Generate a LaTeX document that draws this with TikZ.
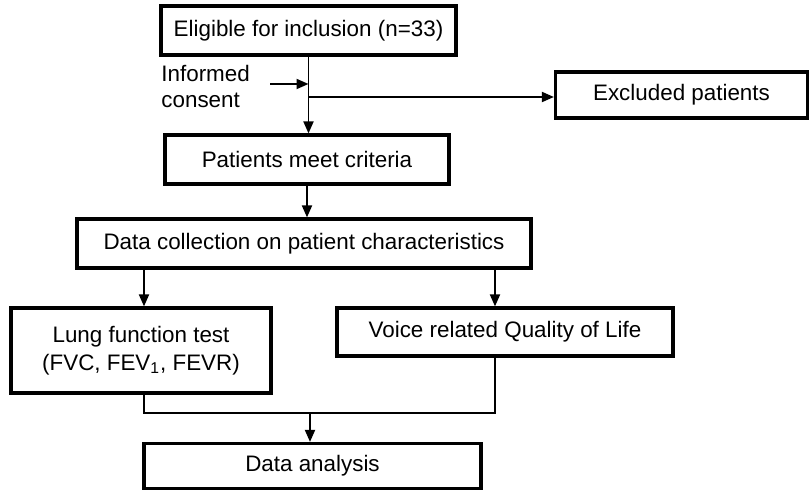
\documentclass[tikz,border=0pt]{standalone}
\usepackage{fontspec}
\setmainfont{Liberation Sans}
\usetikzlibrary{positioning,arrows.meta}

\tikzset{
  % rectangular step of the flow chart
  box/.style={draw, line width=1.6pt, rectangle, inner sep=2pt,
    minimum height=24.5pt, font=\fontsize{11.2}{14}\selectfont},
  % connecting lines and arrows
  link/.style={line width=0.95pt},
  arr/.style={link, -{Triangle[length=6pt,width=5pt]}}
}

\begin{document}
\begin{tikzpicture}[x=0.5pt, y=-0.5pt]

  % fix the size of the picture
  \useasboundingbox (0,0) rectangle (809,491);

  % add boxes for each step
  \node[box, minimum width=147.5pt] (elig) at (308.5, 30.5) {Eligible for inclusion (n=33)};
  \node[box, minimum width=126pt, minimum height=23pt] (excl) at (681.5, 95) {Excluded patients};
  \node[box, minimum width=142pt] (meet) at (307, 159.5) {Patients meet criteria};
  \node[box, minimum width=227pt] (coll) at (304, 243.5) {Data collection on patient characteristics};
  \node[box, minimum width=130pt, minimum height=42.5pt, align=center] (lung) at (141, 350.5)
    {Lung function test\\(FVC, FEV\textsubscript{1}, FEVR)};
  \node[box, minimum width=168pt, minimum height=24pt] (voice) at (505, 332) {Voice related Quality of Life};
  \node[box, minimum width=168.5pt, minimum height=22.5pt] (ana) at (312.5, 466) {Data analysis};

  % add side label
  \node[font=\fontsize{11.2}{13}\selectfont, align=left, anchor=west, inner sep=0pt] (cons) at (161, 86)
    {Informed\\consent};

  % helper points
  \coordinate (ic) at (270, 84);
  \coordinate (join) at (310, 413);

  % add connectors
  \draw[arr] (elig.south) -- (elig.south |- meet.north);
  \draw[arr] (ic) -- (ic -| elig.south);
  \draw[arr] (elig.south |- 0, 97) -- (excl.west |- 0, 97);
  \draw[arr] (meet.south) -- (meet.south |- coll.north);
  \draw[arr] ([xshift=1.5pt]lung.north |- coll.south) -- ([xshift=1.5pt]lung.north);
  \draw[arr] ([xshift=-5pt]voice.north |- coll.south) -- ([xshift=-5pt]voice.north);
  \draw[link] ([xshift=1.5pt]lung.south) |- (join) -| ([xshift=-5pt]voice.south);
  \draw[arr] (join) -- (join |- ana.north);

\end{tikzpicture}
\end{document}
